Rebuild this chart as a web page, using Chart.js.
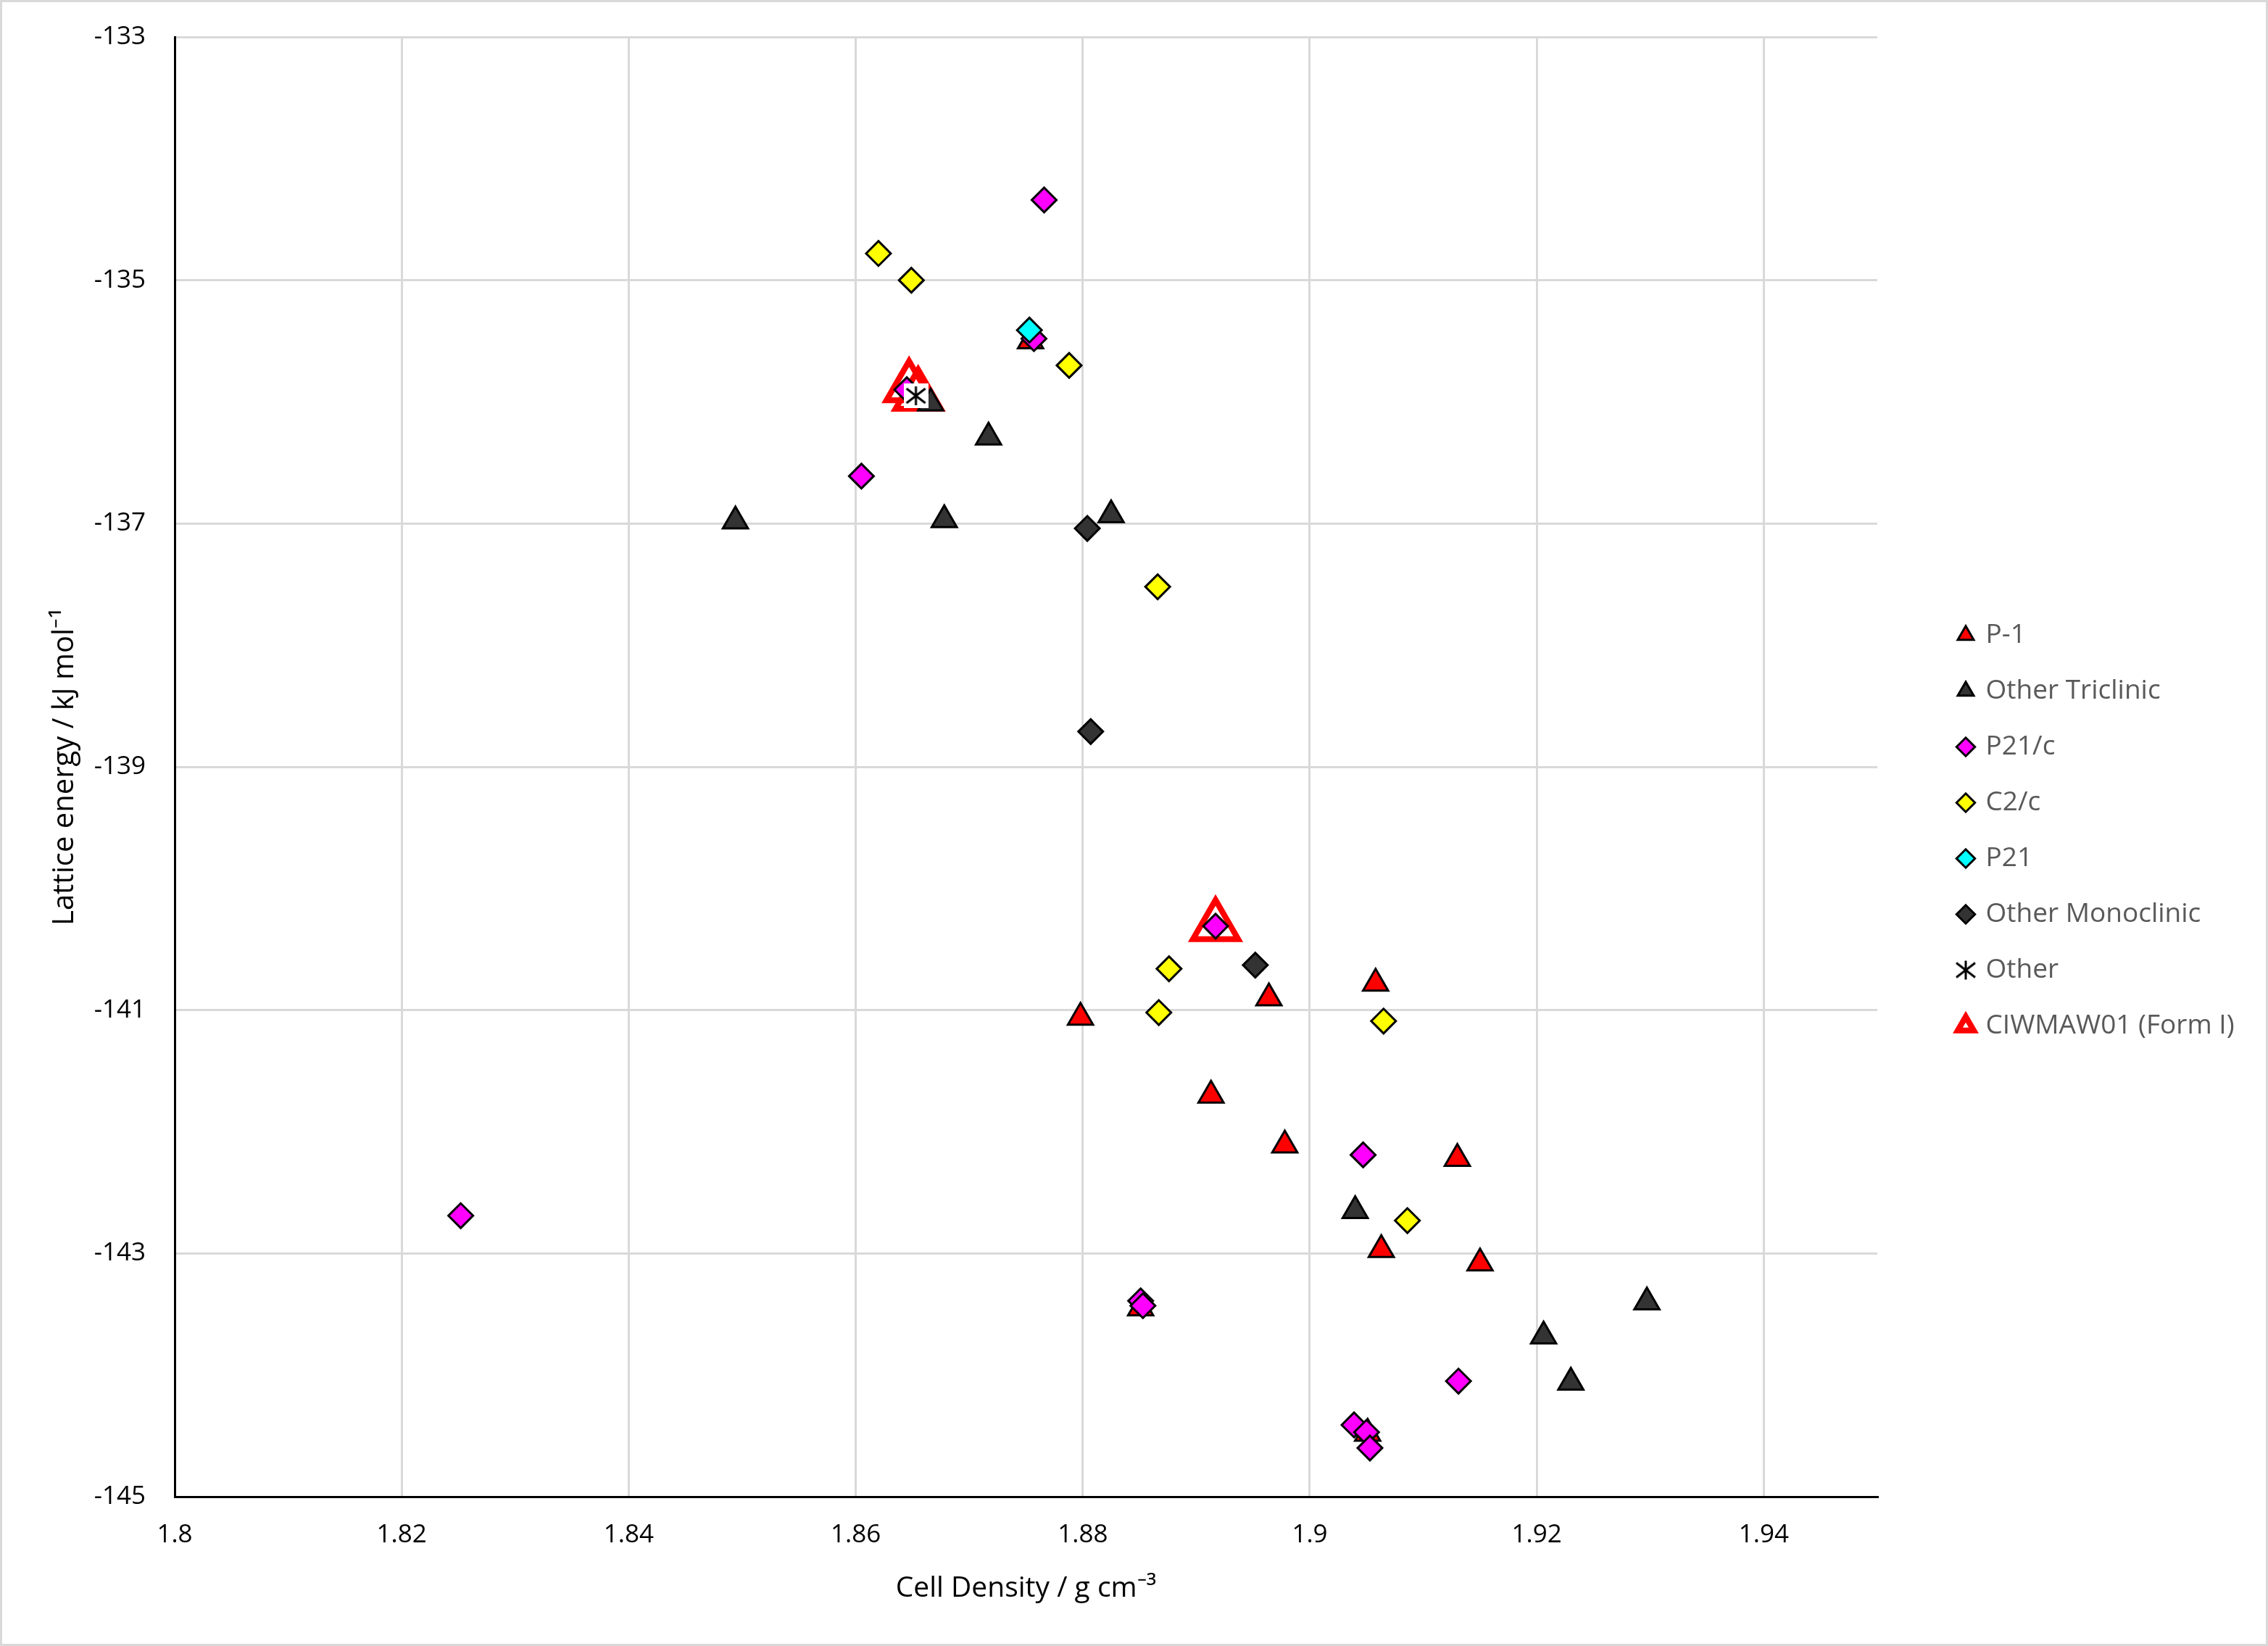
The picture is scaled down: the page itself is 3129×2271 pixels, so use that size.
<!DOCTYPE html>
<html>
<head>
<meta charset="utf-8">
<script src="https://cdn.jsdelivr.net/npm/chart.js@4.4.1/dist/chart.umd.min.js"></script>
<style>
  html, body { margin: 0; padding: 0; background: #fff; }
  #wrap { width: 3129px; height: 2271px; }
</style>
</head>
<body>
<div id="wrap"><canvas id="latticeChart" width="3129" height="2271"></canvas></div>
<script>
// axis ticks
const xTickValues = [1.8, 1.82, 1.84, 1.86, 1.88, 1.9, 1.92, 1.94];
const xTickLabels = ['1.8', '1.82', '1.84', '1.86', '1.88', '1.9', '1.92', '1.94'];
const yTickValues = [-145, -143, -141, -139, -137, -135, -133];
const yTickLabels = ['-145', '-143', '-141', '-139', '-137', '-135', '-133'];

// series: cell density (g cm-3) and lattice energy (kJ/mol)
const p1Density = [1.8754, 1.8798, 1.8964, 1.9058, 1.8913, 1.8978, 1.9130, 1.9063, 1.9150, 1.8851, 1.9051];
const p1Energy = [-135.50, -141.06, -140.90, -140.78, -141.70, -142.11, -142.22, -142.97, -143.08, -143.45, -144.48];

const otherTriDensity = [1.8494, 1.8666, 1.8678, 1.8717, 1.8825, 1.9040, 1.9206, 1.9230, 1.9297];
const otherTriEnergy = [-136.98, -136.01, -136.97, -136.29, -136.93, -142.65, -143.68, -144.06, -143.40];

const p21cDensity = [1.8766, 1.8757, 1.8645, 1.8605, 1.8917, 1.9047, 1.8252, 1.8851, 1.8853, 1.9131, 1.9039, 1.9050, 1.9053];
const p21cEnergy = [-134.34, -135.48, -135.90, -136.61, -140.31, -142.19, -142.69, -143.39, -143.43, -144.05, -144.41, -144.47, -144.60];

const c2cDensity = [1.8620, 1.8649, 1.8788, 1.8866, 1.8876, 1.8867, 1.9065, 1.9086];
const c2cEnergy = [-134.78, -135.00, -135.70, -137.52, -140.66, -141.02, -141.09, -142.73];

const p21Density = [1.8753];
const p21Energy = [-135.41];

const otherMonoDensity = [1.8804, 1.8807, 1.8952];
const otherMonoEnergy = [-137.04, -138.71, -140.63];

const otherDensity = [1.8653];
const otherEnergy = [-135.95];

const formIDensity = [1.8647, 1.8655, 1.8917];
const formIEnergy = [-135.88, -135.95, -140.31];

const legendNames = ['P-1', 'Other Triclinic', 'P21/c', 'C2/c', 'P21', 'Other Monoclinic', 'Other', 'CIWMAW01 (Form I)'];

function pts(xs, ys) {
    return xs.map((x, i) => ({ x: x, y: ys[i] }));
}

// asterisk marker with white box behind it, like the spreadsheet one
function makeAsterisk(size) {
    const c = document.createElement('canvas');
    c.width = size;
    c.height = size;
    const g = c.getContext('2d');
    g.fillStyle = '#fff';
    g.fillRect(0, 0, size, size);
    g.strokeStyle = '#000';
    g.lineWidth = 3;
    const m = 4;
    g.beginPath();
    g.moveTo(size / 2, m); g.lineTo(size / 2, size - m);
    g.moveTo(m, m + 3); g.lineTo(size - m, size - m - 3);
    g.moveTo(size - m, m + 3); g.lineTo(m, size - m - 3);
    g.stroke();
    return c;
}

Chart.defaults.font.family = "'Open Sans', sans-serif";

// target plot box (px)
const plotTop = 51;
const plotRight = 2590;
const gapRight = 73;

const frame = {
    id: 'frame',
    beforeDraw(chart) {
        const { ctx, width, height } = chart;
        ctx.save();
        ctx.fillStyle = '#fff';
        ctx.fillRect(0, 0, width, height);
        ctx.restore();
    },
    afterDraw(chart) {
        const { ctx, width, height } = chart;
        ctx.save();
        ctx.strokeStyle = '#d9d9d9';
        ctx.lineWidth = 3;
        ctx.strokeRect(1.5, 1.5, width - 3, height - 3);
        ctx.restore();
    }
};

function series(label, xs, ys, style, fill, radius, order, border, bw) {
    return {
        label: label,
        data: pts(xs, ys),
        pointStyle: style,
        pointRadius: radius,
        pointHoverRadius: radius,
        backgroundColor: fill,
        borderColor: border || '#000',
        borderWidth: bw || 3,
        order: order
    };
}

const ctx = document.getElementById('latticeChart').getContext('2d');
const chart = new Chart(ctx, {
    type: 'scatter',
    data: {
        datasets: [
            series(legendNames[0], p1Density, p1Energy, 'triangle', '#ff0000', 20, 6),
            series(legendNames[1], otherTriDensity, otherTriEnergy, 'triangle', '#333333', 20, 5),
            series(legendNames[2], p21cDensity, p21cEnergy, 'rectRot', '#ff00ff', 17, 4),
            series(legendNames[3], c2cDensity, c2cEnergy, 'rectRot', '#ffff00', 17, 3),
            series(legendNames[4], p21Density, p21Energy, 'rectRot', '#00ffff', 17, 2),
            series(legendNames[5], otherMonoDensity, otherMonoEnergy, 'rectRot', '#333333', 17, 1),
            series(legendNames[6], otherDensity, otherEnergy, makeAsterisk(34), '#ffffff', 17, 0),
            series(legendNames[7], formIDensity, formIEnergy, 'triangle', 'rgba(255,255,255,0)', 36, 7, '#ff0000', 8)
        ]
    },
    options: {
        responsive: false,
        animation: false,
        devicePixelRatio: 1,
        layout: { padding: { left: 40, top: plotTop, right: 60, bottom: 30 } },
        plugins: {
            tooltip: { enabled: false },
            legend: {
                position: 'right',
                align: 'center',
                labels: {
                    usePointStyle: true,
                    boxWidth: 18,
                    boxHeight: 18,
                    padding: 40,
                    color: '#595959',
                    font: { size: 37 },
                    sort: (a, b) => a.datasetIndex - b.datasetIndex
                }
            }
        },
        scales: {
            x: {
                type: 'linear',
                min: 1.8,
                max: 1.95,
                afterBuildTicks: s => { s.ticks = xTickValues.map(v => ({ value: v })); },
                afterFit: s => { s.height = 176; },
                ticks: {
                    callback: (v, i) => xTickLabels[i],
                    color: '#000',
                    font: { size: 35 },
                    padding: 32,
                    maxRotation: 0,
                    autoSkip: false
                },
                grid: { color: '#d9d9d9', lineWidth: 3, drawTicks: false },
                border: { color: '#000', width: 3 },
                title: {
                    display: true,
                    text: 'Cell Density / g cm\u207B\u00B3',
                    color: '#000',
                    font: { size: 39 },
                    padding: { top: 0, bottom: 26 }
                }
            },
            y: {
                type: 'linear',
                min: -145,
                max: -133,
                afterBuildTicks: s => { s.ticks = yTickValues.map(v => ({ value: v })); },
                afterFit: s => {
                    s.width = 201;
                    // tick padding should not push the plot down
                    s.paddingTop = 0;
                    s.paddingBottom = 0;
                },
                ticks: {
                    callback: (v, i) => yTickLabels[i],
                    color: '#000',
                    font: { size: 35 },
                    padding: 40
                },
                grid: { color: '#d9d9d9', lineWidth: 3, drawTicks: false },
                border: { color: '#000', width: 3 },
                title: {
                    display: true,
                    text: 'Lattice energy / kJ mol\u207B\u00B9',
                    color: '#000',
                    font: { size: 40 },
                    padding: { top: 26, bottom: 0 }
                }
            },
            // empty spacer between plot and legend
            yPad: {
                type: 'linear',
                position: 'right',
                display: true,
                grid: { display: false },
                border: { display: false },
                ticks: { display: false },
                afterFit: s => { s.width = gapRight; s.paddingTop = 0; s.paddingBottom = 0; }
            }
        }
    },
    plugins: [frame]
});

// nudge padding so the plot box lands where the reference has it
const pad = chart.options.layout.padding;
pad.right = Math.max(0, pad.right + (chart.chartArea.right - plotRight));
pad.top = Math.max(0, pad.top - (chart.chartArea.top - plotTop));
chart.update();
</script>
</body>
</html>
